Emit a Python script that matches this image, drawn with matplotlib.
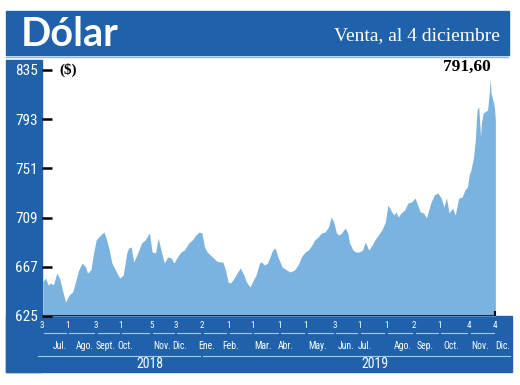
import matplotlib
matplotlib.use("Agg")
import pandas as pd
from matplotlib import pyplot as plt, transforms
from matplotlib import dates as mdates
from matplotlib.patches import Rectangle

# dólar venta
dates = [
    "2018-07-04", "2018-07-07", "2018-07-10", "2018-07-13", "2018-07-16", "2018-07-20",
    "2018-07-23", "2018-07-27", "2018-07-30", "2018-08-03", "2018-08-07", "2018-08-10",
    "2018-08-14", "2018-08-18", "2018-08-22", "2018-08-24", "2018-08-28", "2018-08-31",
    "2018-09-03", "2018-09-08", "2018-09-12", "2018-09-15", "2018-09-18", "2018-09-21",
    "2018-09-25", "2018-09-30", "2018-10-04", "2018-10-08", "2018-10-10", "2018-10-13",
    "2018-10-16", "2018-10-21", "2018-10-25", "2018-10-29", "2018-11-03", "2018-11-06",
    "2018-11-10", "2018-11-13", "2018-11-17", "2018-11-20", "2018-11-24", "2018-11-28",
    "2018-12-01", "2018-12-05", "2018-12-09", "2018-12-13", "2018-12-18", "2018-12-22",
    "2018-12-26", "2018-12-30", "2019-01-02", "2019-01-05", "2019-01-08", "2019-01-14",
    "2019-01-19", "2019-01-23", "2019-01-26", "2019-01-29", "2019-02-01", "2019-02-04",
    "2019-02-08", "2019-02-12", "2019-02-15", "2019-02-19", "2019-02-22", "2019-02-26",
    "2019-03-02", "2019-03-05", "2019-03-09", "2019-03-11", "2019-03-15", "2019-03-18",
    "2019-03-21", "2019-03-24", "2019-03-27", "2019-03-30", "2019-04-04", "2019-04-09",
    "2019-04-13", "2019-04-18", "2019-04-22", "2019-04-26", "2019-04-30", "2019-05-04",
    "2019-05-08", "2019-05-11", "2019-05-15", "2019-05-19", "2019-05-23", "2019-05-27",
    "2019-05-30", "2019-06-02", "2019-06-05", "2019-06-08", "2019-06-11", "2019-06-15",
    "2019-06-18", "2019-06-20", "2019-06-24", "2019-06-27", "2019-07-01", "2019-07-05",
    "2019-07-08", "2019-07-12", "2019-07-16", "2019-07-19", "2019-07-23", "2019-07-27",
    "2019-07-31", "2019-08-03", "2019-08-06", "2019-08-10", "2019-08-12", "2019-08-15",
    "2019-08-18", "2019-08-22", "2019-08-26", "2019-08-30", "2019-09-03", "2019-09-06",
    "2019-09-09", "2019-09-13", "2019-09-16", "2019-09-21", "2019-09-25", "2019-09-29",
    "2019-10-03", "2019-10-06", "2019-10-09", "2019-10-12", "2019-10-16", "2019-10-19",
    "2019-10-23", "2019-10-27", "2019-10-30", "2019-11-02", "2019-11-04", "2019-11-06",
    "2019-11-09", "2019-11-11", "2019-11-13", "2019-11-15", "2019-11-17", "2019-11-18",
    "2019-11-20", "2019-11-22", "2019-11-25", "2019-11-27", "2019-11-28", "2019-11-29",
    "2019-12-02", "2019-12-03", "2019-12-04",
]
values = [
    654.3, 657.4, 651.5, 653.2, 651.5, 661.7,
    657.4, 645.5, 637.0, 642.9, 645.5, 653.2,
    664.3, 670.2, 666.8, 661.7, 664.3, 678.8,
    689.9, 694.1, 696.7, 689.9, 681.3, 670.2,
    664.3, 657.4, 660.0, 678.8, 683.0, 683.9,
    671.1, 679.6, 687.3, 689.9, 695.9, 679.6,
    678.8, 691.6, 678.8, 670.2, 675.4, 674.5,
    670.2, 675.4, 679.6, 681.3, 687.3, 689.9,
    694.1, 696.7, 695.9, 683.9, 679.6, 675.4,
    671.9, 671.1, 671.1, 664.3, 654.0, 653.2,
    657.4, 662.6, 666.0, 660.0, 654.0, 649.8,
    655.7, 660.0, 670.2, 671.1, 668.5, 670.2,
    675.4, 681.3, 683.0, 675.4, 666.8, 664.3,
    662.6, 664.3, 668.5, 675.4, 679.6, 681.3,
    685.6, 689.9, 692.4, 695.9, 696.7, 701.0,
    709.5, 705.2, 695.9, 694.1, 695.9, 700.1,
    695.9, 687.3, 681.3, 679.6, 679.6, 681.3,
    688.2, 681.3, 685.6, 689.9, 694.1, 698.4,
    705.2, 719.8, 715.5, 711.2, 713.8, 709.6,
    712.9, 715.5, 721.5, 722.3, 725.7, 719.8,
    713.8, 712.9, 708.7, 721.5, 728.3, 730.0,
    725.7, 718.0, 725.7, 712.9, 717.2, 711.2,
    725.7, 726.6, 732.6, 735.1, 745.4, 749.6,
    760.7, 775.3, 800.9, 803.4, 777.8, 789.8,
    798.3, 799.2, 800.9, 815.4, 828.2, 815.4,
    806.8, 802.6, 791.60,
]

y_ticks = [625, 667, 709, 751, 793, 835]

tick_dates = ["2018-07-03", "2018-08-01", "2018-09-03", "2018-10-01", "2018-11-05", "2018-12-03",
              "2019-01-02", "2019-02-01", "2019-03-01", "2019-04-01", "2019-05-01", "2019-06-03",
              "2019-07-01", "2019-08-01", "2019-09-02", "2019-10-01", "2019-11-04", "2019-12-04"]
tick_days = ["3", "1", "3", "1", "5", "3", "2", "1", "1", "1", "1", "3", "1", "1", "2", "1", "4", "4"]

month_dates = ["2018-07-23", "2018-08-21", "2018-09-14", "2018-10-06", "2018-11-18", "2018-12-08",
               "2019-01-08", "2019-02-04", "2019-03-13", "2019-04-08", "2019-05-14", "2019-06-16",
               "2019-07-08", "2019-08-20", "2019-09-15", "2019-10-14", "2019-11-17", "2019-12-12"]
month_names = ["Jul.", "Ago.", "Sept.", "Oct.", "Nov.", "Dic.",
               "Ene.", "Feb.", "Mar.", "Abr.", "May.", "Jun.",
               "Jul.", "Ago.", "Sep.", "Oct.", "Nov.", "Dic."]

years = ["2018", "2019"]
year_dates = ["2018-11-04", "2019-07-19"]
year_spans = [("2018-06-28", "2018-12-31"), ("2019-01-03", "2019-12-21")]

DARK = "#1f62ab"
FILL = "#7bb3e0"
PALE = "#a3cbee"
NARROW = "Roboto Condensed"

W, H = 520, 385


def fx(px):
    return px / W


def fy(py):
    return 1 - py / H


def num(d):
    return mdates.date2num(pd.to_datetime(d))


fig = plt.figure(figsize=(W / 100, H / 100), dpi=100)
fig.patch.set_facecolor("white")

# blue frames
fig.add_artist(Rectangle((fx(6), fy(55)), fx(509) - fx(6), fy(11) - fy(55),
                         transform=fig.transFigure, color=DARK, zorder=-1))
fig.add_artist(Rectangle((fx(6), fy(372)), fx(42) - fx(6), fy(60) - fy(372),
                         transform=fig.transFigure, color=DARK, zorder=-1))
fig.add_artist(Rectangle((fx(6), fy(372)), fx(512) - fx(6), fy(316) - fy(372),
                         transform=fig.transFigure, color=DARK, zorder=-1))
fig.add_artist(plt.Line2D([fx(6), fx(508)], [fy(57), fy(57)], transform=fig.transFigure,
                          color="#8dbbe3", lw=1, zorder=-1))

fig.text(fx(21), fy(34), "Dólar", color="white", fontsize=28.5, fontweight="bold",
         family="Lato", va="center", ha="left")
fig.text(fx(500), fy(36), "Venta, al 4 diciembre", color="white", fontsize=14,
         family="Liberation Serif", va="center", ha="right")

ax = fig.add_axes([fx(42), fy(316), fx(512) - fx(42), fy(70) - fy(316)])
ax.patch.set_visible(False)
for s in ax.spines.values():
    s.set_visible(False)

x = num(dates)
ax.fill_between(x, values, y_ticks[0], color=FILL, lw=0)
ax.hlines(y_ticks[0], num("2018-07-03"), x[-1], color="#1b2b4f", lw=1.5)
ax.vlines(x[-1], y_ticks[0], y_ticks[0] + 4, color="black", lw=1.5)

ax.set_xlim(num("2018-07-03"), num("2019-12-23"))
ax.set_ylim(y_ticks[0], y_ticks[-1])
ax.set_xticks([])
ax.set_yticks(y_ticks)
ax.tick_params(axis="y", direction="in", length=7.5, width=1.8, color="black",
               pad=3, labelcolor="white", labelsize=11)
for lab in ax.get_yticklabels():
    lab.set_family(NARROW)

fig.text(fx(59), fy(70), "($)", fontsize=11, fontweight="bold", family="Liberation Serif",
         va="center", ha="left")
fig.text(fx(467), fy(67), f"{values[-1]:.2f}".replace(".", ","), fontsize=12.5,
         fontweight="bold", family="Liberation Serif", va="center", ha="center")

# date band under the chart
trans = transforms.blended_transform_factory(ax.transData, fig.transFigure)
tx = num(tick_dates)
for xi, lab in zip(tx, tick_days):
    ax.text(xi, fy(326), lab, transform=trans, color="white", fontsize=6.5, family=NARROW,
            ha="center", va="center", clip_on=False)
for a, b in zip(tx[:-1], tx[1:]):
    ax.plot([a + 2, b - 2], [fy(333), fy(333)], transform=trans, color=PALE, lw=0.8, clip_on=False)
for xi, lab in zip(num(month_dates), month_names):
    ax.text(xi, fy(346), lab, transform=trans, color="white", fontsize=7, family=NARROW,
            ha="center", va="center", clip_on=False)
for (a, b) in year_spans:
    ax.plot([num(a), num(b)], [fy(356), fy(356)], transform=trans, color=PALE, lw=0.8, clip_on=False)
for xi, lab in zip(num(year_dates), years):
    ax.text(xi, fy(364), lab, transform=trans, color="white", fontsize=10, family=NARROW,
            ha="center", va="center", clip_on=False)

fig.savefig("out.png", dpi=100)
